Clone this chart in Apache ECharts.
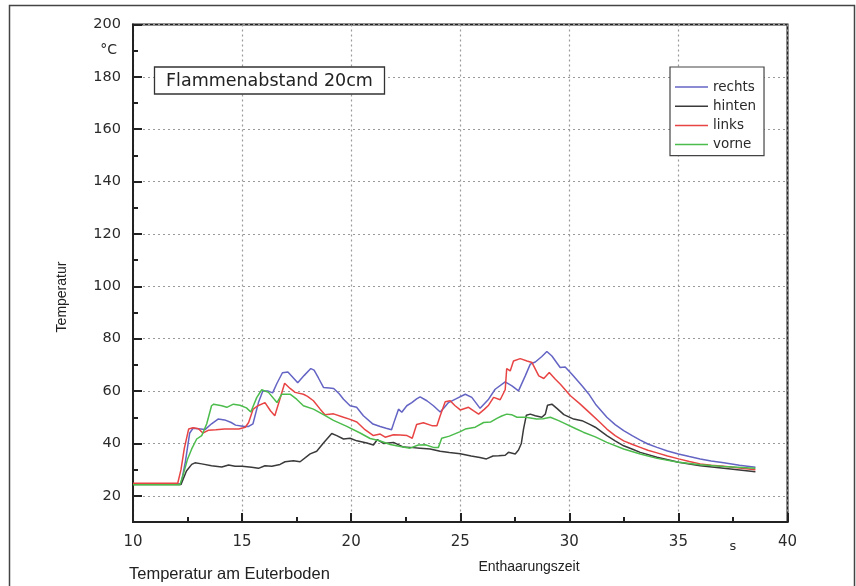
<!DOCTYPE html>
<html>
<head>
<meta charset="utf-8">
<script src="https://cdn.jsdelivr.net/npm/echarts@6/dist/echarts.min.js"></script>
<style>html,body{margin:0;padding:0;background:#fff}#c{width:856px;height:586px}</style>
</head>
<body>
<div id="c"></div>
<script>
// ---- data ----
const seriesNames = ['rechts', 'hinten', 'links', 'vorne'];
const xTickLabels = [10, 15, 20, 25, 30, 35, 40];
const yTickLabels = [20, 40, 60, 80, 100, 120, 140, 160, 180, 200];
const yMinorTicks = [30, 50, 70, 90, 110, 130, 150, 170, 190];

const rechts = [[10,24.5],[12.2,24.5],[12.4,33],[12.6,44],[12.75,45.8],[13.1,45.5],[13.3,45.3],[13.6,47.5],[13.9,49.3],[14.2,49],[14.5,48],[14.7,47],[15.1,46.5],[15.3,46.5],[15.5,47.5],[15.75,55.6],[15.95,60],[16.2,60],[16.4,59.3],[16.6,63],[16.85,67],[17.1,67.3],[17.3,65.5],[17.55,63.2],[17.85,66],[18.15,68.6],[18.3,68],[18.5,65],[18.73,61.4],[19.0,61.2],[19.2,61],[19.45,59],[19.65,56.9],[19.95,54.4],[20.25,53.8],[20.56,50.6],[21.0,47.4],[21.33,46.5],[21.6,45.8],[21.85,45.2],[22.0,49],[22.17,53.1],[22.32,51.9],[22.55,54.4],[22.78,55.6],[23.0,57],[23.16,57.8],[23.47,56.3],[23.77,54.4],[24.08,52],[24.25,53.5],[24.46,55.6],[24.8,57],[25.23,58.8],[25.53,57.6],[25.91,53.4],[26.3,56.9],[26.6,60.7],[27.06,63.5],[27.37,62],[27.67,60.1],[27.98,65.8],[28.21,70.3],[28.44,71.1],[28.74,73.2],[28.97,75.1],[29.2,73.4],[29.58,69],[29.81,69.2],[30.12,66.4],[30.58,62],[30.88,59],[31.2,55],[31.72,50],[32.1,47.2],[32.49,44.9],[32.9,42.9],[33.25,41.3],[33.6,39.8],[34.02,38.5],[34.5,37.1],[35.0,36],[35.5,35],[36.0,34.1],[36.5,33.3],[37.08,32.6],[37.8,31.7],[38.53,30.9]];

const hinten = [[10,24.3],[12.2,24.3],[12.45,29.5],[12.69,32],[12.84,32.6],[13.15,32.2],[13.6,31.5],[14.07,31],[14.38,31.8],[14.68,31.3],[15.0,31.3],[15.44,30.9],[15.75,30.5],[16.05,31.5],[16.36,31.3],[16.74,32],[16.97,33],[17.35,33.4],[17.66,33],[18.12,36],[18.42,37],[18.73,40.2],[19.11,43.8],[19.34,43],[19.65,41.7],[19.95,42],[20.26,41],[20.72,40.2],[21.02,39.4],[21.2,41.5],[21.48,40],[21.94,40.4],[22.4,38.6],[22.71,38.5],[23.16,38.2],[23.62,37.9],[24.08,37],[24.5,36.5],[25.0,36.1],[25.5,35.2],[25.9,34.6],[26.2,34.1],[26.5,35.2],[26.76,35.3],[27.06,35.5],[27.21,36.6],[27.52,36],[27.67,37.5],[27.8,40],[27.9,45.5],[28.03,50.8],[28.21,51.2],[28.44,50.6],[28.74,50],[28.9,51.2],[29.0,54.6],[29.2,55],[29.43,53.4],[29.75,51],[30.2,49.3],[30.58,48.7],[30.96,47.2],[31.19,46.2],[31.72,43],[32.1,41],[32.49,39.1],[32.9,37.8],[33.25,36.6],[34.02,34.7],[35.01,32.8],[36.0,31.5],[37.08,30.5],[38.53,29.2]];

const links = [[10,24.8],[12.05,24.8],[12.2,30],[12.35,38],[12.55,45.5],[12.75,46],[13.0,45.6],[13.2,44],[13.45,45],[13.8,45.2],[14.2,45.5],[14.6,45.5],[14.85,45.5],[15.15,46.2],[15.3,48],[15.5,53],[15.7,54.3],[16.05,55.6],[16.3,52.5],[16.5,50.6],[16.7,56],[16.95,63],[17.2,61],[17.43,59.5],[17.81,58.8],[18.0,58],[18.27,56.3],[18.58,53.1],[18.8,51],[19.19,51.3],[19.65,50],[19.95,49.2],[20.26,48.2],[20.6,45.5],[21.02,43],[21.33,43.6],[21.56,42.4],[21.94,43.3],[22.25,43.2],[22.56,43],[22.8,42],[23.0,47.2],[23.31,47.9],[23.7,46.8],[23.93,46.8],[24.08,50.6],[24.31,55.9],[24.54,56.3],[24.75,54.5],[25.0,52.8],[25.38,53.8],[25.6,52.5],[25.84,51.2],[26.1,53],[26.3,54.6],[26.53,57.6],[26.83,56.7],[27.06,60.5],[27.13,68.6],[27.29,67.7],[27.44,71.5],[27.75,72.4],[28.06,71.5],[28.29,70.9],[28.6,65.8],[28.83,64.8],[29.08,67.1],[29.36,64.5],[29.59,62.6],[30.05,58.2],[30.5,55],[30.96,51.5],[31.35,48.5],[31.72,45.5],[32.1,43],[32.49,41],[32.9,39.6],[33.25,38.5],[33.6,37.4],[34.02,36.4],[34.5,35.2],[35.01,34.1],[35.5,33.1],[36.0,32.2],[36.5,31.7],[37.08,31.3],[37.8,30.6],[38.53,30]];

const vorne = [[10,24.2],[12.15,24.2],[12.3,28],[12.5,34],[12.69,37.9],[12.92,41.7],[13.15,43],[13.38,47.5],[13.6,54.4],[13.7,55],[14.07,54.4],[14.3,53.8],[14.6,55],[14.9,54.6],[15.2,53.6],[15.4,52],[15.67,57.5],[15.9,60.5],[16.21,59.5],[16.6,55.6],[16.82,58.8],[17.2,58.8],[17.5,56.9],[17.81,54.4],[18.27,53.1],[18.73,51],[19.19,48.8],[19.8,46.5],[20.41,44],[20.87,41.9],[21.3,41],[21.79,39.6],[22.25,38.8],[22.7,38.2],[23.08,39.4],[23.4,39.5],[23.77,38.5],[24.0,38.5],[24.15,42],[24.5,42.8],[25.0,44.5],[25.23,45.5],[25.69,46.2],[26.07,48],[26.4,48.2],[26.68,49.6],[26.9,50.5],[27.13,51.2],[27.35,51],[27.6,50],[28.0,50],[28.5,49.3],[28.8,49.4],[29.13,50],[29.51,48.7],[29.9,47.2],[30.3,45.6],[30.64,44.3],[31.19,42.5],[31.72,40.4],[32.49,37.9],[33.25,36],[34.02,34.3],[35.01,32.8],[36.0,31.9],[37.08,31.2],[38.53,30.5]];

const colors = {rechts: '#6464c4', hinten: '#3a3a3a', links: '#e84444', vorne: '#4cbc4c'};
const dataByName = {rechts, hinten, links, vorne};

const numFont = 'DejaVu Sans';
const txtFont = 'Liberation Sans';
const ink = '#222';

const chart = echarts.init(document.getElementById('c'), null, {renderer: 'canvas'});

const gridLine = {show: true, lineStyle: {color: '#9a9a9a', type: [2, 3], width: 1.2}};

chart.setOption({
  animation: false,
  backgroundColor: '#fff',
  grid: {left: 133, right: 68.5, top: 24.5, bottom: 64, show: true, borderColor: ink, borderWidth: 2, outerBoundsMode: 'none'},
  xAxis: {
    type: 'value', min: 10, max: 40, interval: 5,
    axisLine: {show: true, lineStyle: {color: ink, width: 2}},
    axisTick: {show: true, inside: true, length: 9, lineStyle: {color: ink, width: 2}},
    minorTick: {show: true, splitNumber: 2, length: 5, lineStyle: {color: ink, width: 2}},
    splitLine: gridLine,
    axisLabel: {
      customValues: xTickLabels.concat([37.5]),
      margin: 13, fontFamily: numFont, fontSize: 15, color: '#2a2a2a',
      formatter: v => v === 37.5 ? '{s|s}' : String(v),
      rich: {s: {fontFamily: numFont, fontSize: 13, color: '#2a2a2a', padding: [5, 0, 0, 0]}}
    }
  },
  yAxis: [{
    type: 'value', min: 10, max: 200, position: 'left',
    axisLine: {show: true, lineStyle: {color: ink, width: 2}},
    axisTick: {show: true, inside: true, length: 9, customValues: yTickLabels, lineStyle: {color: ink, width: 2}},
    splitLine: gridLine,
    axisLabel: {customValues: yTickLabels, margin: 12, fontFamily: numFont, fontSize: 14.5, color: '#2a2a2a'}
  }, {
    type: 'value', min: 10, max: 200, position: 'left',
    axisLine: {show: false},
    axisTick: {show: true, inside: true, length: 5, customValues: yMinorTicks, lineStyle: {color: ink, width: 2}},
    splitLine: {show: false},
    axisLabel: {customValues: [190], formatter: () => '°C', margin: 16, fontFamily: numFont, fontSize: 14, color: '#2a2a2a'}
  }],
  legend: {
    data: seriesNames, orient: 'vertical', left: 670, top: 67,
    icon: 'rect', itemWidth: 33, itemHeight: 1.5, itemGap: 5.2,
    textStyle: {fontFamily: numFont, fontSize: 13.5, color: '#2a2a2a', lineHeight: 14},
    backgroundColor: '#fff', borderColor: '#444', borderWidth: 1.2,
    padding: [13, 8, 4, 5], z: 20
  },
  graphic: [
    {type: 'rect', silent: true, z: -10, shape: {x: 9.5, y: 5.5, width: 845, height: 600}, style: {fill: 'none', stroke: '#444', lineWidth: 1.5}},
    {type: 'rect', z: 50, shape: {x: 154.5, y: 67, width: 230, height: 27}, style: {fill: '#fff', stroke: '#333', lineWidth: 1.3}},
    {type: 'text', z: 51, x: 166, y: 81, style: {text: 'Flammenabstand 20cm', fontFamily: numFont, fontSize: 17.5, fill: ink, verticalAlign: 'middle', align: 'left'}},
    {type: 'text', z: 51, x: 62, y: 297, rotation: Math.PI / 2, style: {text: 'Temperatur', fontFamily: txtFont, fontSize: 14, fill: ink, align: 'center', verticalAlign: 'middle'}},
    {type: 'text', z: 51, x: 529, y: 567, style: {text: 'Enthaarungszeit', fontFamily: txtFont, fontSize: 14, fill: ink, align: 'center', verticalAlign: 'middle'}},
    {type: 'text', z: 51, x: 129, y: 574, style: {text: 'Temperatur am Euterboden', fontFamily: txtFont, fontSize: 16.5, fill: ink, align: 'left', verticalAlign: 'middle'}}
  ],
  series: seriesNames.map(n => ({
    name: n, type: 'line', xAxisIndex: 0, yAxisIndex: 0,
    data: dataByName[n], symbol: 'none', showSymbol: false,
    color: colors[n],
    lineStyle: {color: colors[n], width: 1.5},
    z: 3
  }))
});
</script>
</body>
</html>
